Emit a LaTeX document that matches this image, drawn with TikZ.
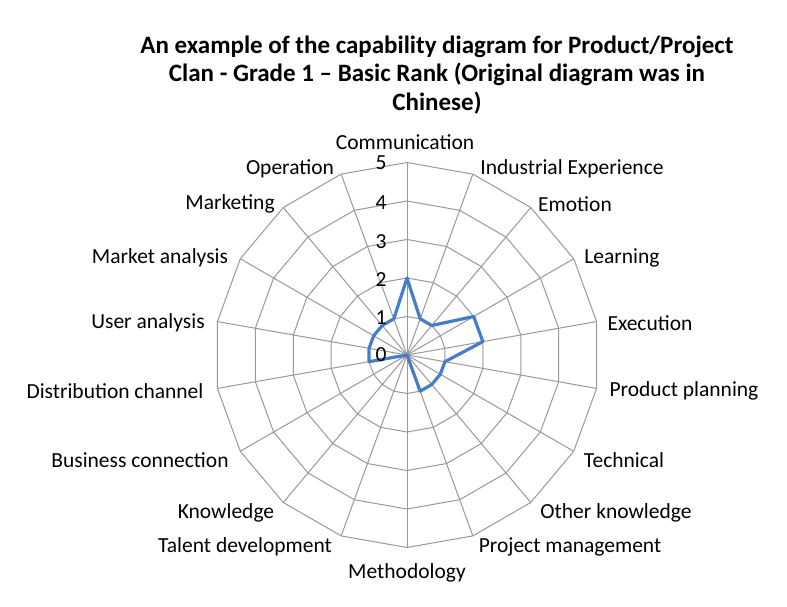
\documentclass[tikz,border=0pt]{standalone}
\usepackage{fontspec}
\setmainfont{Carlito}
\usetikzlibrary{calc}
\begin{document}
\begin{tikzpicture}[x=1pt,y=-1pt,
  grid/.style={draw=gray!80,line width=1pt},
  lbl/.style={font=\fontsize{21.5}{24}\selectfont,inner sep=0pt},
  tick/.style={font=\fontsize{21.5}{24}\selectfont,inner sep=0pt},
  series/.style={draw={rgb,255:red,68;green,125;blue,200},line width=3.2pt,line join=round}]
\useasboundingbox (0,0) rectangle (787,606);
\fill[white] (0,0) rectangle (787,606);
\def\u{38.5}
\coordinate (c) at (407,355);
\foreach \r in {1,...,5}{
  \draw[grid] ($(c)+(-90:\r*\u)$) \foreach \k in {1,...,17}{ -- ($(c)+(\k*20-90:\r*\u)$)} -- cycle;
}
\foreach \k in {0,...,17}{ \draw[grid] (c) -- ($(c)+(\k*20-90:5*\u)$); }
\node[font=\bfseries\fontsize{25}{28.5}\selectfont,align=center] (title) at (437,75)
 {An example of the capability diagram for Product/Project\\Clan - Grade 1 -- Basic Rank (Original diagram was in\\Chinese)};
\foreach \v [count=\i from 0] in {2,1,1,2,2,1,1,1,1,0,0,0,0,1,1,1,1,1}{
  \coordinate (p\i) at ($(c)+(\i*20-90:\v*\u)$);
}
\draw[series] (p0)--(p1)--(p2)--(p3)--(p4)--(p5)--(p6)--(p7)--(p8)--(p9)--(p10)--(p11)--(p12)--(p13)--(p14)--(p15)--(p16)--(p17)--cycle;
\foreach \n/\y in {0/355,1/318,2/280,3/242,4/203,5/163}{ \node[tick] (t\n) at (381,\y) {\n}; }
\node[lbl] (l0) at (405,142) {Communication};
\node[lbl] (l1) at (572,169) {Industrial Experience};
\node[lbl] (l2) at (575,204) {Emotion};
\node[lbl] (l3) at (622,258) {Learning};
\node[lbl] (l4) at (650,323) {Execution};
\node[lbl] (l5) at (684,391) {Product planning};
\node[lbl] (l6) at (624,460) {Technical};
\node[lbl] (l7) at (616,513) {Other knowledge};
\node[lbl] (l8) at (570,547) {Project management};
\node[lbl] (l9) at (407,573) {Methodology};
\node[lbl] (l10) at (245,547) {Talent development};
\node[lbl] (l11) at (226,513) {Knowledge};
\node[lbl] (l12) at (140,460) {Business connection};
\node[lbl] (l13) at (115,391) {Distribution channel};
\node[lbl] (l14) at (148,323) {User analysis};
\node[lbl] (l15) at (160,258) {Market analysis};
\node[lbl] (l16) at (230,204) {Marketing};
\node[lbl] (l17) at (290,169) {Operation};
\end{tikzpicture}
\end{document}
